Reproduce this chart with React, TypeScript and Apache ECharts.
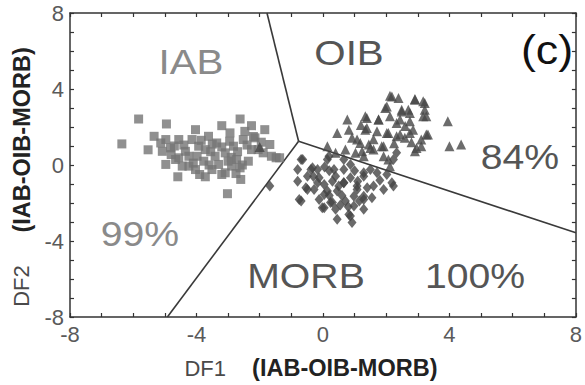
import React, { useEffect, useRef } from "react";
import * as echarts from "echarts";

// Discriminant-function scores, DF1 vs DF2
const iabPoints: number[][] = [
  [-5.83, 2.42], [-4.95, 2.16], [-6.36, 1.11], [-5.53, 0.8], [-4.59, -0.62],
  [-3.02, -1.51], [-2.62, 2.42], [-3.72, -0.62], [-3.2, -0.5], [-2.6, -0.76],
  [-2.36, 0.2], [-1.63, 0.46], [-1.68, 1.08], [-1.84, 1.86], [-2.26, 2.07],
  [-3.2, 2.07], [-2.94, 1.69], [-4.03, 1.86], [-4.14, 1.34], [-5.34, 1.51],
  [-4.97, 1.34], [-4.56, 1.34], [-5.08, 0.72], [-4.82, 0.9], [-4.97, 0.03],
  [-4.56, 0.38], [-4.35, 0.72], [-4.24, -0.06], [-3.98, 0.46], [-4.03, -0.24],
  [-3.72, 0.81], [-3.62, 1.51], [-3.77, 0.2], [-3.51, -0.24], [-3.3, 0.03],
  [-3.36, 1.16], [-3.09, 0.64], [-2.83, 0.99], [-2.73, 0.29], [-2.62, -0.15],
  [-2.52, 1.34], [-2.47, 1.77], [-2.15, 1.43], [-2.05, 0.81], [-2.26, 0.81],
  [-1.89, 0.64], [-2.89, -0.06], [-3.09, -0.41], [-3.93, 0.99], [-4.24, 0.46],
  [-5.13, 1.16], [-4.66, 0.29], [-4.45, -0.06], [-3.41, 0.46], [-1.48, 0.38],
  [-1.37, 0.38], [-3.5, 1.1], [-2.9, 0.4], [-3.85, 1.3], [-2.4, 1.05],
  [-4.7, 1.0], [-4.4, 1.05], [-3.6, 0.0], [-3.55, 0.7], [-3.2, 0.95],
  [-2.95, 1.25], [-2.7, 0.7], [-2.55, 0.0], [-2.2, 1.5], [-1.95, 1.2],
  [-4.1, 0.1], [-3.9, -0.5], [-3.0, 0.2], [-2.75, -0.45], [-4.8, 0.55],
];

const oibPoints: number[][] = [
  [2.12, 3.65], [2.39, 3.53], [2.91, 3.47], [3.17, 3.35], [3.22, 2.91],
  [3.27, 2.56], [3.95, 2.3], [4.0, 0.99], [4.37, 1.08], [1.97, 3.0],
  [1.39, 2.48], [1.76, 2.39], [2.12, 2.56], [2.49, 2.82], [2.7, 2.91],
  [2.75, 2.3], [2.33, 2.21], [1.34, 1.86], [1.71, 1.77], [2.07, 1.69],
  [2.44, 1.6], [2.75, 1.69], [3.27, 1.6], [3.11, 1.34], [2.96, 0.9],
  [1.86, 0.99], [1.5, 0.9], [1.08, 1.34], [1.24, 0.72], [0.77, 2.39],
  [1.34, 2.56], [1.39, 1.95], [0.82, 1.86], [1.76, 2.39], [2.02, 3.08],
  [2.18, 3.61], [0.92, 1.43], [1.18, 1.16], [0.14, 0.99], [1.6, 0.81],
  [1.92, 0.99], [0.71, 0.81], [0.4, 0.64], [1.29, 0.46], [2.07, 0.29],
  [2.85, 1.86], [3.32, 1.6], [3.11, 0.99], [2.91, 0.72], [3.22, 3.26],
  [2.91, 3.44], [3.17, 2.56], [2.49, 2.91], [2.44, 2.39], [2.75, 2.74],
  [2.02, 1.69], [2.33, 1.51], [2.59, 1.43], [1.03, 0.64], [1.92, 0.46],
  [2.12, -0.06], [0.45, 1.69], [1.45, 1.08], [-2.0, 0.95],
  [2.6, 2.05], [1.6, 1.35], [2.25, 1.15], [2.8, 1.2], [1.2, 2.1],
];

const morbPoints: number[][] = [
  [-0.64, 0.29], [-0.8, -0.85], [-0.75, -1.81], [-0.49, -0.59], [-0.33, -0.15],
  [-0.17, -0.24], [-0.54, -1.2], [-0.28, -1.29], [-0.12, -1.81], [0.04, -2.25],
  [0.24, -1.98], [0.4, -2.33], [0.45, -2.86], [0.87, -2.69], [0.92, -3.03],
  [1.29, -2.33], [1.55, -1.72], [1.92, -1.29], [2.18, -0.94], [2.02, -0.5],
  [1.6, -1.11], [1.29, -1.64], [0.14, 0.29], [0.35, -0.24], [0.3, -0.85],
  [0.04, -1.02], [0.04, -1.55], [0.45, -1.37], [0.66, -0.94], [0.87, -0.67],
  [1.08, -1.11], [0.98, -1.64], [0.71, -1.9], [1.29, -0.41], [1.5, -0.24],
  [0.66, -0.24], [0.87, 0.03], [-0.12, -0.67], [-0.8, -0.24], [-0.69, 0.29],
  [-0.69, -1.9], [0.82, -2.6], [2.23, -1.11], [2.33, 0.64], [2.23, 0.29],
  [-0.38, -0.24], [-0.02, -2.25], [0.19, 0.46], [0.66, 0.29], [1.08, -1.29],
  [1.29, -1.81], [0.98, -2.16], [-0.17, -0.94], [0.14, -1.37], [0.4, -0.59],
  [0.66, -0.94], [1.29, -0.59], [1.71, -0.41], [-0.49, -1.29], [0.3, -1.98],
  [-1.68, -1.11], [0.2, -0.3], [0.5, -1.1], [1.0, -0.3],
  [0.2, -1.6], [0.6, -1.6], [0.8, -2.2], [1.15, -1.9], [1.4, -1.2],
  [1.8, -0.8], [-0.3, -0.6], [0.05, -0.1], [1.1, -0.85], [0.55, -2.1],
];

// Field boundaries meeting at a common junction
const junction: number[] = [-0.77, 1.25];
const boundaryTop: number[][] = [[-1.77, 8], junction];
const boundaryRight: number[][] = [junction, [8, -3.57]];
const boundaryBottom: number[][] = [junction, [-4.92, -8]];

const axisMin = -8;
const axisMax = 8;
const axisStep = 4;

export default function App() {
  const ref = useRef<HTMLDivElement>(null);

  useEffect(() => {
    if (!ref.current) return;
    const chart = echarts.init(ref.current, null, { renderer: "svg" });

    const lineColor = "#333333";
    const font = "'Liberation Sans', Arial, sans-serif";

    const baseAxis = {
      min: axisMin,
      max: axisMax,
      interval: axisStep,
      axisLine: { show: true, onZero: false, lineStyle: { color: lineColor, width: 1.5 } },
      axisTick: { show: true, inside: true, length: 4, lineStyle: { color: lineColor, width: 1.2 } },
      minorTick: { show: true, splitNumber: 4, length: 4, lineStyle: { color: lineColor, width: 1.2 } },
      splitLine: { show: false },
    };

    const tickLabel = {
      color: "#5a5a5a",
      fontSize: 22,
      fontFamily: font,
    };

    const boundary = (data: number[][]) => ({
      type: "line",
      data,
      symbol: "none",
      silent: true,
      z: 1,
      lineStyle: { color: "#3a3a3a", width: 1.6 },
    });

    const regionText = (text: string, x: number, y: number, color: string, size = 35, sx = 1.12) => ({
      type: "text",
      x,
      y,
      scaleX: sx,
      z: 10,
      style: {
        text,
        fill: color,
        font: `${size}px ${font}`,
        textAlign: "center",
        textVerticalAlign: "middle",
      },
    });

    chart.setOption({
      animation: false,
      backgroundColor: "#ffffff",
      grid: { left: 70, right: 4, top: 13, bottom: 67 },
      xAxis: [
        {
          ...baseAxis,
          type: "value",
          position: "bottom",
          axisLabel: { ...tickLabel, margin: 6 },
          name: "{a|DF1}{b|    (IAB-OIB-MORB)}",
          nameLocation: "middle",
          nameGap: 39,
          nameTextStyle: {
            rich: {
              a: { fontSize: 22, fontFamily: font, color: "#4a4a4a" },
              b: { fontSize: 23.5, fontFamily: font, fontWeight: "bold", color: "#222", padding: [0, 24, 0, 0] },
            },
          },
        },
        {
          ...baseAxis,
          type: "value",
          position: "top",
          axisLabel: { show: false },
        },
      ],
      yAxis: [
        {
          ...baseAxis,
          type: "value",
          position: "left",
          axisLabel: { ...tickLabel, margin: 6 },
          name: "{a|DF2}{b|     (IAB-OIB-MORB)}",
          nameLocation: "middle",
          nameRotate: 90,
          nameGap: 33,
          nameTextStyle: {
            rich: {
              a: { fontSize: 22, fontFamily: font, color: "#4a4a4a" },
              b: { fontSize: 23.5, fontFamily: font, fontWeight: "bold", color: "#222", padding: [0, 24, 0, 0] },
            },
          },
        },
        {
          ...baseAxis,
          type: "value",
          position: "right",
          axisLabel: { show: false },
        },
      ],
      series: [
        boundary(boundaryTop),
        boundary(boundaryRight),
        boundary(boundaryBottom),
        {
          name: "IAB",
          type: "scatter",
          data: iabPoints,
          symbol: "rect",
          symbolSize: 9,
          z: 3,
          itemStyle: { color: "#747474" },
        },
        {
          name: "OIB",
          type: "scatter",
          data: oibPoints,
          symbol: "triangle",
          symbolSize: [10, 10],
          z: 4,
          itemStyle: { color: "#474747" },
        },
        {
          name: "MORB",
          type: "scatter",
          data: morbPoints,
          symbol: "diamond",
          symbolSize: [9, 11],
          z: 4,
          itemStyle: { color: "#454545" },
        },
      ],
      graphic: [
        regionText("IAB", 191, 61, "#8a8a8a", 36),
        regionText("OIB", 349, 52, "#555555", 36),
        regionText("(c)", 547, 50, "#111111", 40, 1.12),
        regionText("84%", 520, 157, "#555555"),
        regionText("99%", 140, 234, "#8a8a8a"),
        regionText("MORB", 306, 276, "#555555"),
        regionText("100%", 475, 276, "#555555"),
      ],
    });

    return () => chart.dispose();
  }, []);

  return (
    <div
      ref={ref}
      style={{ position: "fixed", left: 0, top: 0, width: 585, height: 385, background: "#fff" }}
    />
  );
}
